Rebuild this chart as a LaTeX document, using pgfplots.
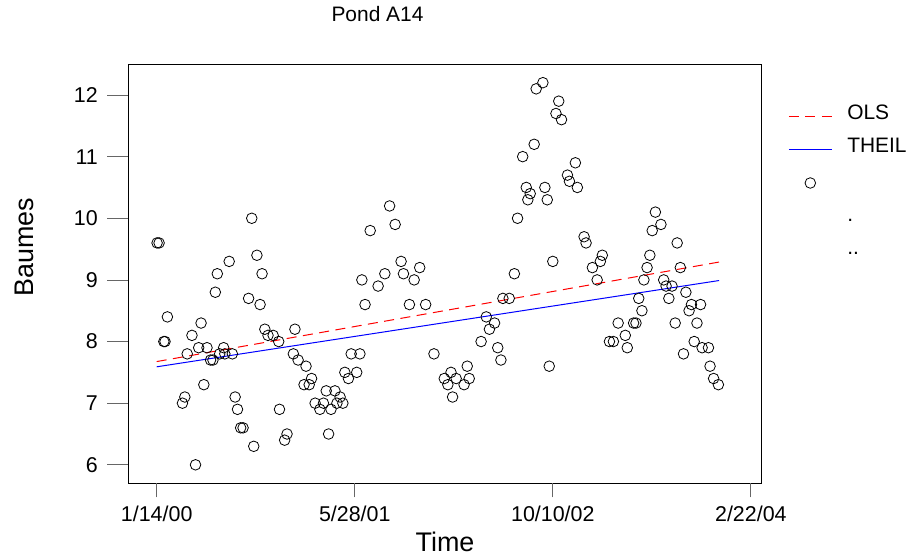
\documentclass[border=0pt]{standalone}
\usepackage{pgfplots}
\pgfplotsset{compat=1.18}
\usepackage{fontspec}
\setmainfont{Liberation Sans}

\pgfplotsset{
  olsleg/.style={legend image code/.code={%
    \draw[red, line width=1bp, dash pattern=on 10bp off 6.5bp] (0bp,-4bp) -- (43bp,-4bp);}},
  theilleg/.style={legend image code/.code={%
    \draw[blue, line width=1bp, solid] (0bp,-4bp) -- (43bp,-4bp);}},
  markleg/.style={legend image code/.code={%
    \path[draw=none, fill=none] (0bp,-7.5bp) rectangle (43bp,7.5bp);
    \draw[##1] plot coordinates {(21.5bp,-4.5bp)};}},
  pondbox/.style={
    at={(128.3bp,74.7bp)}, anchor=south west,
    scale only axis, width=633.4bp, height=418.8bp,
    xmin=-71.7, xmax=1527.4, ymin=5.70, ymax=12.495,
    tick pos=left, tick align=outside,
    tick style={black!60, line width=0.8bp},
    ticklabel style={font=\fontsize{21.5}{24}\selectfont},
    /pgf/number format/assume math mode=true,
  },
}

% day 0 = 1/14/00
\pgfplotstableread{
day baumes
1 9.6
6 9.6
18 8.0
21 8.0
27 8.4
65 7.0
71 7.1
77 7.8
89 8.1
98 6.0
106 7.9
112 8.3
119 7.3
127 7.9
136 7.7
142 7.7
148 8.8
153 9.1
159 7.8
169 7.9
172 7.8
183 9.3
191 7.8
198 7.1
204 6.9
212 6.6
218 6.6
232 8.7
240 10.0
245 6.3
253 9.4
261 8.6
266 9.1
273 8.2
281 8.1
294 8.1
308 8.0
310 6.9
323 6.4
329 6.5
345 7.8
349 8.2
357 7.7
372 7.3
377 7.6
385 7.3
391 7.4
400 7.0
412 6.9
421 7.0
428 7.2
434 6.5
440 6.9
450 7.2
455 7.0
463 7.1
470 7.0
475 7.5
484 7.4
491 7.8
505 7.5
513 7.8
518 9.0
526 8.6
539 9.8
559 8.9
576 9.1
588 10.2
602 9.9
617 9.3
623 9.1
638 8.6
650 9.0
664 9.2
679 8.6
700 7.8
726 7.4
735 7.3
743 7.5
747 7.1
756 7.4
776 7.3
784 7.6
789 7.4
819 8.0
832 8.4
840 8.2
853 8.3
861 7.9
869 7.7
874 8.7
890 8.7
903 9.1
911 10.0
924 11.0
933 10.5
937 10.3
943 10.4
953 11.2
958 12.1
975 12.2
980 10.5
986 10.3
991 7.6
1000 9.3
1008 11.7
1015 11.9
1022 11.6
1037 10.7
1042 10.6
1057 10.9
1062 10.5
1079 9.7
1084 9.6
1100 9.2
1112 9.0
1120 9.3
1125 9.4
1143 8.0
1153 8.0
1165 8.3
1183 8.1
1188 7.9
1204 8.3
1210 8.3
1217 8.7
1225 8.5
1230 9.0
1238 9.2
1245 9.4
1251 9.8
1259 10.1
1273 9.9
1280 9.0
1286 8.9
1293 8.7
1301 8.9
1309 8.3
1314 9.6
1322 9.2
1330 7.8
1336 8.8
1344 8.5
1350 8.6
1357 8.0
1364 8.3
1373 8.6
1377 7.9
1393 7.9
1397 7.6
1406 7.4
1418 7.3
}\pondtable

\begin{document}
\begin{tikzpicture}
\useasboundingbox (0bp,0bp) rectangle (909bp,558bp);
% main axis: data, y ticks (longer), titles, legend
\begin{axis}[
  pondbox,
  xtick=\empty,
  ytick={6,7,8,9,10,11,12},
  yticklabels={},
  major tick length=21bp,
  axis line style={line width=0.8bp, black},
  title={Pond A14},
  title style={at={(axis description cs:0.3934,1.0888)}, anchor=base,
    font=\fontsize{21}{24}\selectfont, inner sep=0pt},
  xlabel={Time},
  xlabel style={at={(axis description cs:0.5,-0.1633)}, anchor=base,
    font=\fontsize{27}{30}\selectfont, inner sep=0pt},
  ylabel={Baumes},
  ylabel style={at={(axis description cs:-0.1647,0.563)}, anchor=center,
    font=\fontsize{27}{30}\selectfont, inner sep=0pt},
  legend style={at={(axis description cs:1.042,0.9033)}, anchor=north west,
    draw=none, fill=none, inner sep=0pt, outer sep=0pt,
    font=\fontsize{21}{24}\selectfont, row sep=18bp,
    nodes={inner sep=0pt, text height=15bp, text depth=0bp}},
  legend cell align=left,
  /tikz/every odd column/.append style={column sep=15bp},
]
\addplot[red, line width=1bp, dash pattern=on 10bp off 6.5bp, olsleg]
  coordinates {(0,7.675) (1420,9.29)};
\addlegendentry{OLS}
\addplot[blue, line width=1bp, theilleg]
  coordinates {(0,7.59) (1420,8.99)};
\addlegendentry{THEIL}
\addplot[only marks, mark=o, black, mark size=5.3bp,
  mark options={line width=0.8bp}, markleg]
  table[x=day, y=baumes] {\pondtable};
\addlegendentry{}
\addlegendimage{empty legend}
\addlegendentry{.}
\addlegendimage{empty legend}
\addlegendentry{..}
\end{axis}
% same box: x ticks (shorter)
\begin{axis}[
  pondbox,
  axis line style={draw=none},
  ytick=\empty,
  xtick={0,500,1000,1500},
  xticklabels={},
  major tick length=14bp,
]
\end{axis}
% same box: tick labels only
\begin{axis}[
  pondbox,
  axis line style={draw=none},
  major tick length=0pt,
  tick style={draw=none},
  xtick={0,500,1000,1500},
  xticklabels={1/14/00,5/28/01,10/10/02,2/22/04},
  ytick={6,7,8,9,10,11,12},
  xticklabel style={anchor=base, yshift=-38.7bp},
  yticklabel style={anchor=east, xshift=-27bp},
]
\end{axis}
\end{tikzpicture}
\end{document}
